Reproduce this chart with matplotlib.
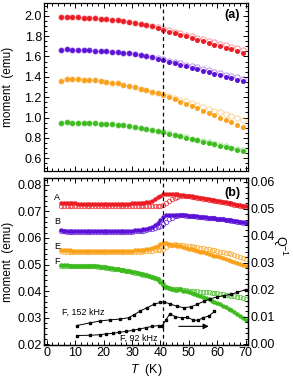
import matplotlib
matplotlib.use('Agg')
import matplotlib.pyplot as plt
import numpy as np
from matplotlib.ticker import MultipleLocator, FormatStrFormatter

plt.rcParams['font.family'] = ['Liberation Sans', 'DejaVu Sans']
plt.rcParams['font.size'] = 9
plt.rcParams['mathtext.fontset'] = 'custom'
plt.rcParams['mathtext.it'] = 'Liberation Sans:italic'
plt.rcParams['mathtext.rm'] = 'Liberation Sans'

red = '#ec1c24'
purple = '#5b12d6'
orange = '#f9a11b'
green = '#3dbb1e'

# ---- panel (a): moment vs T, every 2 K ----
T_a = np.arange(5, 70, 2)
red_a = [1.985, 1.990, 1.988, 1.985, 1.982, 1.979, 1.975, 1.971, 1.966, 1.961, 1.955,
         1.948, 1.941, 1.933, 1.923, 1.911, 1.897, 1.880, 1.862, 1.845, 1.829, 1.813,
         1.797, 1.781, 1.765, 1.749, 1.733, 1.717, 1.701, 1.685, 1.669, 1.653, 1.638]
red_a_open = [1.985, 1.990, 1.988, 1.985, 1.982, 1.979, 1.975, 1.971, 1.966, 1.961, 1.955,
              1.948, 1.941, 1.933, 1.923, 1.911, 1.897, 1.885, 1.872, 1.858, 1.844, 1.830,
              1.815, 1.800, 1.785, 1.770, 1.755, 1.740, 1.725, 1.710, 1.695, 1.680, 1.665]
purple_a = [1.668, 1.670, 1.668, 1.666, 1.664, 1.661, 1.658, 1.655, 1.651, 1.647, 1.642,
            1.637, 1.631, 1.624, 1.615, 1.604, 1.592, 1.579, 1.565, 1.550, 1.535, 1.520,
            1.505, 1.490, 1.475, 1.460, 1.446, 1.431, 1.416, 1.401, 1.386, 1.371, 1.357]
purple_a_open = [1.668, 1.670, 1.668, 1.666, 1.664, 1.661, 1.658, 1.655, 1.651, 1.647, 1.642,
                 1.637, 1.631, 1.624, 1.615, 1.604, 1.592, 1.583, 1.573, 1.560, 1.547, 1.534,
                 1.520, 1.506, 1.492, 1.478, 1.464, 1.450, 1.436, 1.422, 1.408, 1.394, 1.380]
orange_a = [1.360, 1.377, 1.376, 1.374, 1.371, 1.368, 1.364, 1.359, 1.352, 1.344, 1.335,
            1.324, 1.311, 1.297, 1.282, 1.267, 1.252, 1.237, 1.222, 1.200, 1.178, 1.156,
            1.134, 1.112, 1.090, 1.068, 1.045, 1.022, 0.999, 0.976, 0.953, 0.930, 0.907]
orange_a_open = [1.360, 1.377, 1.376, 1.374, 1.371, 1.368, 1.364, 1.359, 1.352, 1.344, 1.335,
                 1.324, 1.311, 1.297, 1.282, 1.267, 1.252, 1.237, 1.230, 1.212, 1.194, 1.176,
                 1.158, 1.140, 1.122, 1.104, 1.086, 1.068, 1.050, 1.032, 1.014, 0.996, 0.978]
green_a = [0.950, 0.952, 0.951, 0.950, 0.948, 0.946, 0.944, 0.941, 0.938, 0.934, 0.929,
           0.923, 0.916, 0.908, 0.899, 0.889, 0.879, 0.868, 0.856, 0.843, 0.830, 0.816,
           0.803, 0.790, 0.777, 0.764, 0.751, 0.737, 0.724, 0.711, 0.698, 0.685, 0.672]
green_a_open = [0.950, 0.952, 0.951, 0.950, 0.948, 0.946, 0.944, 0.941, 0.938, 0.934, 0.929,
                0.923, 0.916, 0.908, 0.899, 0.889, 0.879, 0.868, 0.858, 0.846, 0.833, 0.820,
                0.807, 0.794, 0.781, 0.768, 0.755, 0.742, 0.729, 0.716, 0.703, 0.690, 0.677]

# ---- panel (b): moment vs T, every 1 K ----
T_b = np.arange(5, 71)
A_fill = [0.0732, 0.0731, 0.0731, 0.0730, 0.0730, 0.0730, 0.0729, 0.0729, 0.0729, 0.0729,
          0.0728, 0.0728, 0.0728, 0.0728, 0.0728, 0.0728, 0.0728, 0.0728, 0.0728, 0.0728,
          0.0728, 0.0728, 0.0729, 0.0729, 0.0729, 0.0730, 0.0730, 0.0731, 0.0732, 0.0733,
          0.0735, 0.0737, 0.0740, 0.0746, 0.0753, 0.0760, 0.0765, 0.0767, 0.0767, 0.0766,
          0.0765, 0.0764, 0.0763, 0.0762, 0.0760, 0.0758, 0.0757, 0.0755, 0.0753, 0.0752,
          0.0750, 0.0748, 0.0746, 0.0744, 0.0742, 0.0740, 0.0738, 0.0736, 0.0734, 0.0732,
          0.0730, 0.0728, 0.0726, 0.0724, 0.0722, 0.0720]
A_open = [0.0722, 0.0722, 0.0722, 0.0721, 0.0721, 0.0721, 0.0721, 0.0720, 0.0720, 0.0720,
          0.0720, 0.0720, 0.0720, 0.0720, 0.0720, 0.0720, 0.0720, 0.0720, 0.0720, 0.0720,
          0.0720, 0.0720, 0.0720, 0.0720, 0.0720, 0.0720, 0.0720, 0.0720, 0.0720, 0.0720,
          0.0720, 0.0720, 0.0719, 0.0719, 0.0719, 0.0720, 0.0723, 0.0730, 0.0739, 0.0747,
          0.0752, 0.0755, 0.0757, 0.0758, 0.0758, 0.0757, 0.0755, 0.0753, 0.0751, 0.0750,
          0.0748, 0.0746, 0.0744, 0.0742, 0.0740, 0.0738, 0.0736, 0.0734, 0.0732, 0.0730,
          0.0728, 0.0726, 0.0724, 0.0722, 0.0720, 0.0718]
B_fill = [0.0629, 0.0628, 0.0628, 0.0627, 0.0627, 0.0627, 0.0627, 0.0626, 0.0626, 0.0626,
          0.0626, 0.0626, 0.0626, 0.0626, 0.0626, 0.0626, 0.0626, 0.0626, 0.0626, 0.0626,
          0.0626, 0.0626, 0.0626, 0.0627, 0.0627, 0.0628, 0.0629, 0.0630, 0.0631, 0.0633,
          0.0635, 0.0638, 0.0642, 0.0648, 0.0656, 0.0668, 0.0680, 0.0686, 0.0687, 0.0687,
          0.0687, 0.0687, 0.0686, 0.0686, 0.0685, 0.0684, 0.0683, 0.0682, 0.0681, 0.0680,
          0.0679, 0.0678, 0.0677, 0.0676, 0.0675, 0.0673, 0.0672, 0.0671, 0.0669, 0.0668,
          0.0666, 0.0665, 0.0663, 0.0661, 0.0659, 0.0657]
B_open = [0.0625, 0.0625, 0.0624, 0.0624, 0.0624, 0.0624, 0.0624, 0.0623, 0.0623, 0.0623,
          0.0623, 0.0623, 0.0623, 0.0623, 0.0623, 0.0623, 0.0623, 0.0623, 0.0623, 0.0623,
          0.0623, 0.0623, 0.0623, 0.0623, 0.0624, 0.0624, 0.0625, 0.0626, 0.0627, 0.0628,
          0.0630, 0.0632, 0.0634, 0.0637, 0.0640, 0.0645, 0.0652, 0.0661, 0.0670, 0.0677,
          0.0682, 0.0684, 0.0685, 0.0685, 0.0684, 0.0683, 0.0682, 0.0681, 0.0680, 0.0679,
          0.0678, 0.0677, 0.0676, 0.0675, 0.0674, 0.0672, 0.0671, 0.0670, 0.0668, 0.0667,
          0.0665, 0.0664, 0.0662, 0.0660, 0.0658, 0.0656]
E_fill = [0.0554, 0.0553, 0.0553, 0.0553, 0.0552, 0.0552, 0.0552, 0.0552, 0.0552, 0.0552,
          0.0551, 0.0551, 0.0551, 0.0551, 0.0551, 0.0551, 0.0551, 0.0551, 0.0551, 0.0551,
          0.0551, 0.0551, 0.0551, 0.0551, 0.0552, 0.0552, 0.0553, 0.0554, 0.0555, 0.0556,
          0.0557, 0.0559, 0.0562, 0.0566, 0.0571, 0.0577, 0.0582, 0.0580, 0.0578, 0.0575,
          0.0573, 0.0570, 0.0568, 0.0565, 0.0563, 0.0560, 0.0557, 0.0555, 0.0552, 0.0549,
          0.0546, 0.0543, 0.0540, 0.0537, 0.0534, 0.0531, 0.0528, 0.0524, 0.0521, 0.0517,
          0.0514, 0.0510, 0.0506, 0.0503, 0.0499, 0.0495]
E_open = [0.0550, 0.0549, 0.0549, 0.0549, 0.0548, 0.0548, 0.0548, 0.0548, 0.0548, 0.0548,
          0.0547, 0.0547, 0.0547, 0.0547, 0.0547, 0.0547, 0.0547, 0.0547, 0.0547, 0.0547,
          0.0547, 0.0547, 0.0547, 0.0547, 0.0548, 0.0548, 0.0548, 0.0549, 0.0549, 0.0550,
          0.0550, 0.0551, 0.0552, 0.0553, 0.0554, 0.0556, 0.0559, 0.0566, 0.0572, 0.0575,
          0.0576, 0.0575, 0.0574, 0.0573, 0.0571, 0.0570, 0.0568, 0.0567, 0.0565, 0.0563,
          0.0561, 0.0559, 0.0557, 0.0555, 0.0553, 0.0551, 0.0549, 0.0547, 0.0545, 0.0542,
          0.0538, 0.0535, 0.0531, 0.0527, 0.0523, 0.0519]
F_fill = [0.0497, 0.0497, 0.0497, 0.0496, 0.0496, 0.0496, 0.0496, 0.0496, 0.0496, 0.0496,
          0.0496, 0.0495, 0.0494, 0.0493, 0.0492, 0.0491, 0.0489, 0.0488, 0.0486, 0.0485,
          0.0483, 0.0481, 0.0479, 0.0477, 0.0475, 0.0473, 0.0471, 0.0468, 0.0466, 0.0463,
          0.0460, 0.0457, 0.0453, 0.0449, 0.0444, 0.0436, 0.0422, 0.0414, 0.0410, 0.0407,
          0.0404, 0.0403, 0.0406, 0.0401, 0.0399, 0.0396, 0.0393, 0.0389, 0.0385, 0.0381,
          0.0377, 0.0373, 0.0369, 0.0364, 0.0360, 0.0355, 0.0350, 0.0345, 0.0340, 0.0334,
          0.0328, 0.0322, 0.0315, 0.0308, 0.0300, 0.0291]
F_open = [0.0496, 0.0496, 0.0496, 0.0495, 0.0495, 0.0495, 0.0495, 0.0495, 0.0495, 0.0495,
          0.0495, 0.0494, 0.0493, 0.0492, 0.0491, 0.0490, 0.0488, 0.0487, 0.0485, 0.0484,
          0.0482, 0.0480, 0.0478, 0.0476, 0.0474, 0.0472, 0.0470, 0.0467, 0.0465, 0.0462,
          0.0460, 0.0457, 0.0454, 0.0450, 0.0446, 0.0438, 0.0425, 0.0416, 0.0411, 0.0409,
          0.0408, 0.0407, 0.0406, 0.0405, 0.0404, 0.0402, 0.0401, 0.0400, 0.0399, 0.0398,
          0.0397, 0.0396, 0.0395, 0.0394, 0.0393, 0.0392, 0.0390, 0.0389, 0.0387, 0.0385,
          0.0383, 0.0381, 0.0379, 0.0376, 0.0374, 0.0371]

# internal friction Q^-1 (right axis), sample F
T_152 = [10.6, 15.3, 18.8, 22.3, 25.9, 28.8, 30.6, 32.9, 35.3, 37.6, 40.0, 41.2,
         43.5, 45.9, 48.2, 50.6, 52.9, 55.3, 57.6, 60.0, 62.4, 64.7, 67.1, 70.0]
Q_152 = [0.0068, 0.0078, 0.0085, 0.0089, 0.0092, 0.0097, 0.0107, 0.0122, 0.0134, 0.0146,
         0.0154, 0.0155, 0.0148, 0.0139, 0.0134, 0.0137, 0.0146, 0.0158, 0.0167, 0.0174,
         0.0179, 0.0183, 0.0191, 0.0201]
T_92 = [10.6, 15.3, 18.8, 20.9, 23.2, 25.5, 27.8, 30.2, 32.5, 34.9, 37.2, 39.5, 40.7,
        42.0, 43.4, 45.3, 47.5, 49.5, 51.5, 53.2, 55.0, 57.0, 59.0]
Q_92 = [0.0031, 0.0032, 0.0034, 0.0037, 0.0039, 0.0043, 0.0046, 0.0050, 0.0055, 0.0060,
        0.0065, 0.0068, 0.0068, 0.0090, 0.0112, 0.0100, 0.0097, 0.0098, 0.0089, 0.0087,
        0.0097, 0.0103, 0.0120]

fig = plt.figure(figsize=(2.93, 3.84), dpi=100)
ax1 = fig.add_axes([0.150, 0.5534, 0.698, 0.4388])
ax2 = fig.add_axes([0.150, 0.1016, 0.698, 0.4349])
ax3 = ax2.twinx()

# panel (a)
for col, yf, yo in [(red, red_a, red_a_open), (purple, purple_a, purple_a_open),
                    (orange, orange_a, orange_a_open), (green, green_a, green_a_open)]:
    ax1.plot(T_a, yo, 'o', ms=3.8, mfc='none', mec=col, mew=0.7, alpha=0.45)
    ax1.plot(T_a, yf, 'o', ms=3.6, color=col, mew=0)
ax1.axvline(41, color='k', ls=(0, (3, 2.5)), lw=0.9)
ax1.set_xlim(-1, 71)
ax1.set_ylim(0.47, 2.125)
ax1.set_xticks(range(0, 71, 10))
ax1.set_xticklabels([])
ax1.xaxis.set_minor_locator(MultipleLocator(2))
ax1.set_yticks(np.arange(0.6, 2.01, 0.2))
ax1.yaxis.set_minor_locator(MultipleLocator(0.05))
ax1.yaxis.set_major_formatter(FormatStrFormatter('%.1f'))
ax1.set_ylabel('moment  (emu)', fontsize=8.5)
ax1.yaxis.set_label_coords(-0.145, 0.5)
ax1.text(0.92, 0.93, '(a)', transform=ax1.transAxes, ha='center', va='center',
         fontsize=9, fontweight='bold')

# panel (b)
for col, yf, yo in [(red, A_fill, A_open), (purple, B_fill, B_open),
                    (orange, E_fill, E_open), (green, F_fill, F_open)]:
    ax2.plot(T_b, yo, 'o', ms=3.2, mfc='none', mec=col, mew=0.6, alpha=0.8)
    ax2.plot(T_b, yf, 'o', ms=3.2, color=col, mew=0)
ax2.axvline(41, color='k', ls=(0, (3, 2.5)), lw=0.9)
for lab, yv in [('A', 0.0751), ('B', 0.0661), ('E', 0.0568), ('F', 0.0511)]:
    ax2.text(3.7, yv, lab, fontsize=6.5, ha='center', va='center')

ax3.plot(T_152, Q_152, '-s', color='k', lw=0.7, ms=1.8, mfc='#444444')
ax3.plot(T_92, Q_92, '-s', color='k', lw=0.7, ms=1.8, mfc='#444444')
ax3.annotate('', xy=(58, 0.0065), xytext=(45.5, 0.0065),
             arrowprops=dict(arrowstyle='-|>', color='k', lw=0.8, mutation_scale=8))
ax3.text(13.0, 0.0117, 'F, 152 kHz', fontsize=6.5, ha='center', va='center')
ax3.text(32.5, 0.0021, 'F, 92 kHz', fontsize=6.5, ha='center', va='center')

ax2.set_xlim(-1, 71)
ax2.set_ylim(0.0197, 0.0826)
ax2.set_xticks(range(0, 71, 10))
ax2.xaxis.set_minor_locator(MultipleLocator(2))
ax2.set_yticks(np.arange(0.02, 0.081, 0.01))
ax2.yaxis.set_minor_locator(MultipleLocator(0.002))
ax2.yaxis.set_major_formatter(FormatStrFormatter('%.2f'))
ax2.set_ylabel('moment  (emu)', fontsize=8.5)
ax2.yaxis.set_label_coords(-0.145, 0.5)
ax2.set_xlabel('$T$  (K)', labelpad=2)
ax2.text(0.92, 0.913, '(b)', transform=ax2.transAxes, ha='center', va='center',
         fontsize=9, fontweight='bold')

ax3.set_ylim(-0.0004, 0.0614)
ax3.set_yticks(np.arange(0.0, 0.061, 0.01))
ax3.yaxis.set_minor_locator(MultipleLocator(0.002))
ax3.yaxis.set_major_formatter(FormatStrFormatter('%.2f'))
fig.text(0.957, 1 - 246 / 384, 'Q$^{-1}$', rotation=270, ha='center', va='center')

for ax in (ax1, ax2):
    ax.tick_params(which='both', direction='in', top=True, right=(ax is ax1),
                   width=0.7, pad=1.5)
    ax.tick_params(which='major', length=3.5)
    ax.tick_params(which='minor', length=2)
ax3.tick_params(which='both', direction='in', width=0.7, pad=1.5)
ax3.tick_params(which='major', length=3.5)
ax3.tick_params(which='minor', length=2)
for ax in (ax1, ax2, ax3):
    for s in ax.spines.values():
        s.set_linewidth(0.9)

fig.savefig('out.png', dpi=100)
